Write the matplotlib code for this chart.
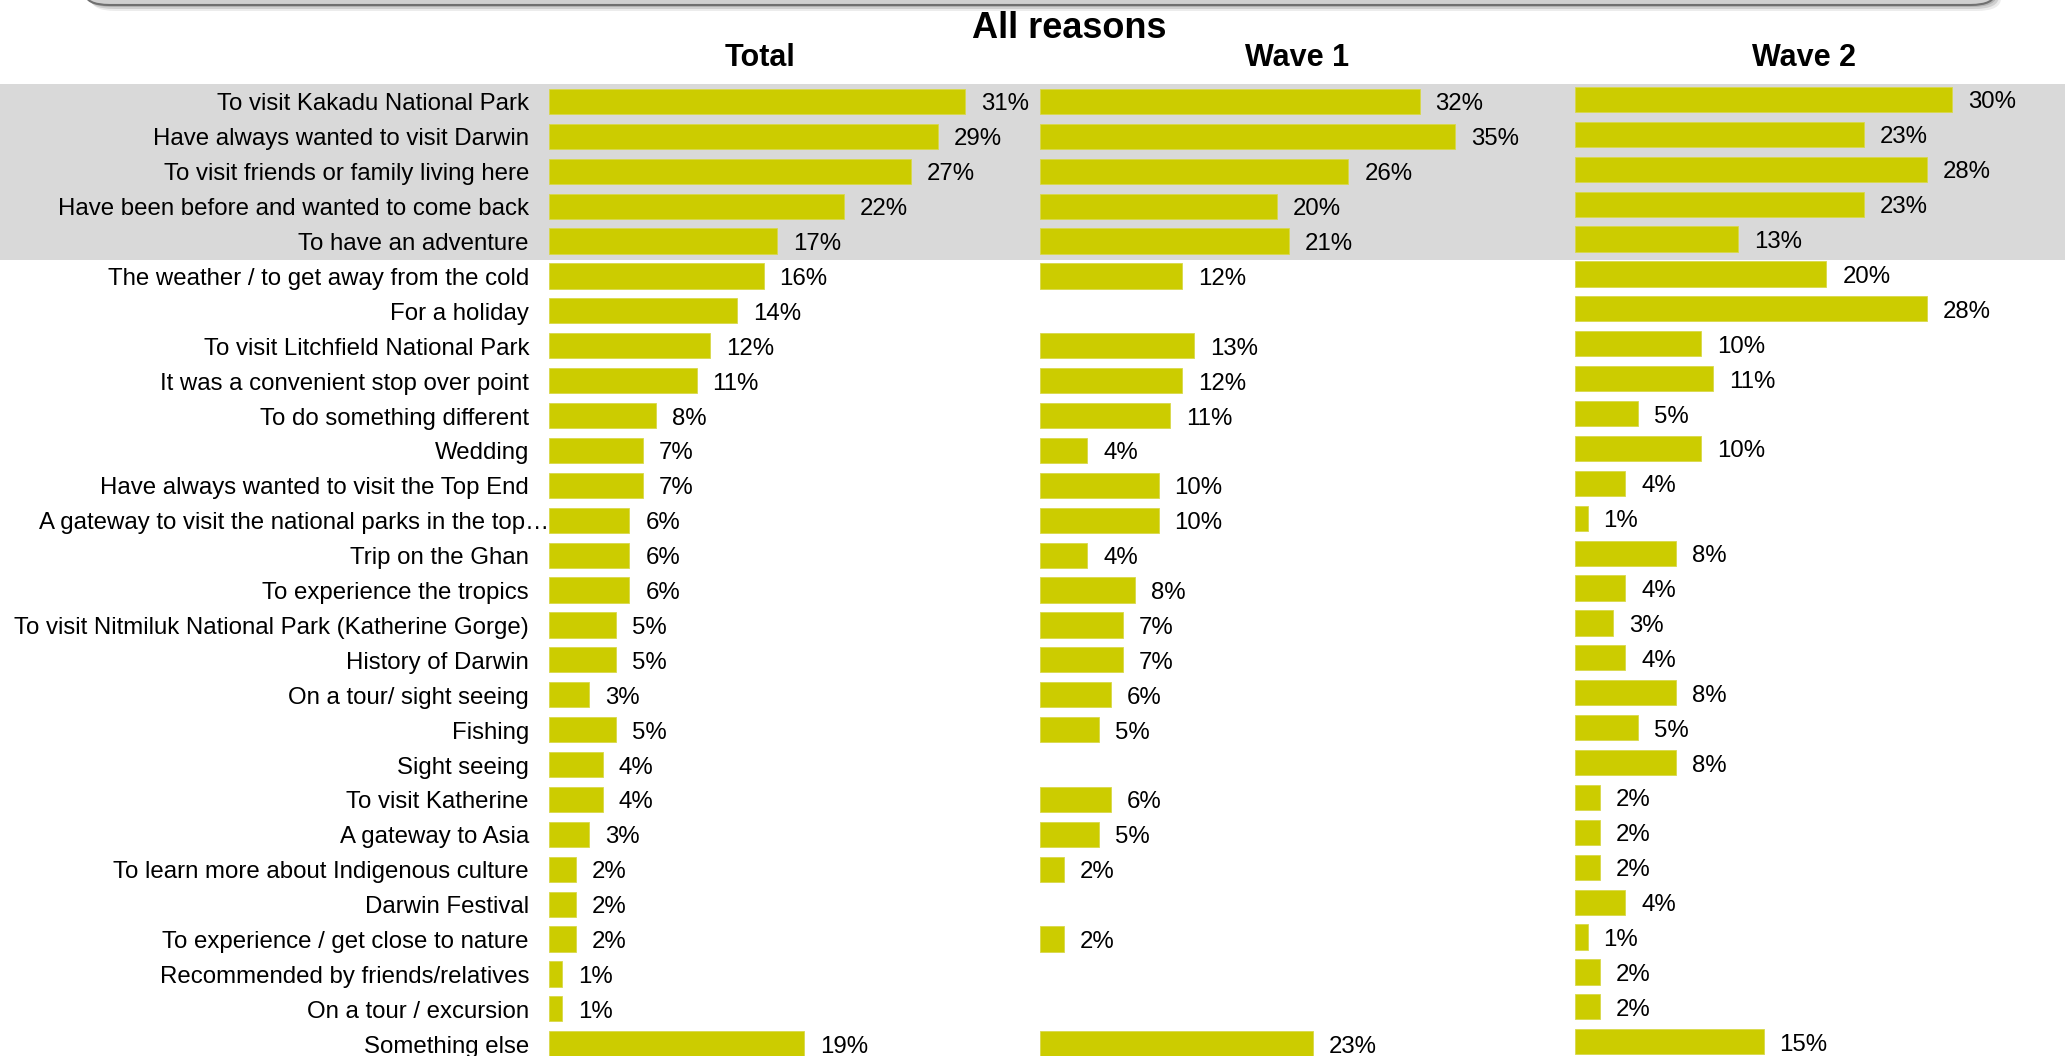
import numpy as np
import matplotlib.pyplot as plt
import matplotlib.transforms as mtransforms
from matplotlib.patches import FancyBboxPatch

plt.rcParams['font.family'] = ['Liberation Sans', 'DejaVu Sans']

# data (None = no answer in that wave)
reasons = [
    "To visit Kakadu National Park",
    "Have always wanted to visit Darwin",
    "To visit friends or family living here",
    "Have been before and wanted to come back",
    "To have an adventure",
    "The weather / to get away from the cold",
    "For a holiday",
    "To visit Litchfield National Park",
    "It was a convenient stop over point",
    "To do something different",
    "Wedding",
    "Have always wanted to visit the Top End",
    "A gateway to visit the national parks in the top\u2026",
    "Trip on the Ghan",
    "To experience the tropics",
    "To visit Nitmiluk National Park (Katherine Gorge)",
    "History of Darwin",
    "On a tour/ sight seeing",
    "Fishing",
    "Sight seeing",
    "To visit Katherine",
    "A gateway to Asia",
    "To learn more about Indigenous culture",
    "Darwin Festival",
    "To experience / get close to nature",
    "Recommended by friends/relatives",
    "On a tour / excursion",
    "Something else",
]
total = [31, 29, 27, 22, 17, 16, 14, 12, 11, 8, 7, 7, 6, 6, 6, 5, 5, 3, 5, 4,
         4, 3, 2, 2, 2, 1, 1, 19]
wave1 = [32, 35, 26, 20, 21, 12, None, 13, 12, 11, 4, 10, 10, 4, 8, 7, 7, 6, 5,
         None, 6, 5, 2, None, 2, None, None, 23]
wave2 = [30, 23, 28, 23, 13, 20, 28, 10, 11, 5, 10, 4, 1, 8, 4, 3, 4, 8, 5, 8,
         2, 2, 2, 4, 1, 2, 2, 15]
panel_titles = ["Total", "Wave 1", "Wave 2"]

W, H = 2065, 1056
BAR = '#CCCC00'
FS = 17.3
fig = plt.figure(figsize=(W / 100, H / 100), dpi=100)

n = len(reasons)
row_h = 34.9
top_px = 84
ax_h = n * row_h
ypos = np.arange(n)

# grey band behind the top 5 reasons
bg = fig.add_axes([0, 1 - (top_px + ax_h) / H, 1, ax_h / H], zorder=0)
bg.set_ylim(n - 0.5, -0.5)
bg.axhspan(-0.55, 4.55, color='#d9d9d9', lw=0)
bg.axis('off')

# (left px, px per percent, width px, vertical shift px)
panels = [(549, 13.41, 481, 0), (1040, 11.86, 520, 0), (1575, 12.57, 490, -2)]
series = [total, wave1, wave2]

for i, (vals, (left, ppp, wpx, dy)) in enumerate(zip(series, panels)):
    ax = fig.add_axes([left / W, 1 - (top_px + dy + ax_h) / H, wpx / W, ax_h / H],
                      zorder=1)
    ax.patch.set_alpha(0)
    ax.set_xlim(0, wpx / ppp)
    ax.set_ylim(n - 0.5, -0.5)
    for y, v in zip(ypos, vals):
        if v is None:
            continue
        ax.barh(y, v, height=0.72, color=BAR, edgecolor='#d8d84a', lw=0.6)
        ax.annotate(f"{v}%", (v, y), xytext=(16, -3), textcoords='offset pixels',
                    ha='left', va='center', fontsize=FS, annotation_clip=False)
    for s in ax.spines.values():
        s.set_visible(False)
    ax.set_xticks([])
    ax.set_yticks([])
    if i == 0:
        # category labels, right aligned left of the bars
        trans = mtransforms.blended_transform_factory(ax.transAxes, ax.transData)
        for y, lab in zip(ypos, reasons):
            shift = 0 if lab.endswith('\u2026') else -20
            ax.text(0, y, lab, ha='right', va='center', fontsize=FS,
                    transform=trans + mtransforms.ScaledTranslation(
                        shift / 100, -3 / 100, fig.dpi_scale_trans))

# headings
fig.text(1069 / W, 1 - 29 / H, "All reasons", ha='center', va='center',
         fontsize=26, fontweight='bold')
for t, cx in zip(panel_titles, [760, 1297, 1804]):
    fig.text(cx / W, 1 - 58 / H, t, ha='center', va='center',
             fontsize=22, fontweight='bold')

# bottom edge of the rounded header box
for k, a in zip([6, 4, 2], [0.15, 0.25, 0.35]):
    fig.patches.append(FancyBboxPatch(
        ((85 + k) / W, (H - 5 - k) / H), 1910 / W, 40 / H,
        boxstyle="round,pad=0,rounding_size=0.012", transform=fig.transFigure,
        facecolor='#808080', edgecolor='none', alpha=a, zorder=2))
fig.patches.append(FancyBboxPatch(
    (85 / W, (H - 5) / H), 1910 / W, 40 / H,
    boxstyle="round,pad=0,rounding_size=0.012", transform=fig.transFigure,
    facecolor='#d0d0d0', edgecolor='#707070', lw=1.5, zorder=3))

fig.savefig("out.png", dpi=100)
